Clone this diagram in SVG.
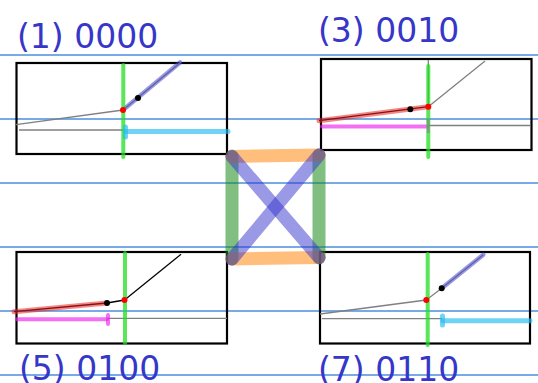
<svg xmlns="http://www.w3.org/2000/svg" width="538" height="383" viewBox="0 0 538 383">
<style>
.grid{stroke:#4a8fe0;stroke-width:1.3}
.box{fill:none;stroke:#000;stroke-width:2.2}
.thin{stroke:#808080;stroke-width:1.3;fill:none}
.blk{stroke:#000;stroke-width:1.3;fill:none}
.vg{stroke:#22dd22;stroke-opacity:0.75;stroke-width:4;stroke-linecap:round}
.blu{stroke:#4444cc;stroke-opacity:0.55;stroke-width:4.5;stroke-linecap:round}
.red{stroke:#ee2222;stroke-opacity:0.55;stroke-width:5;stroke-linecap:round}
.cy{stroke:#22bbf0;stroke-opacity:0.65;stroke-width:5;stroke-linecap:round}
.mg{stroke:#ee22ee;stroke-opacity:0.65;stroke-width:4;stroke-linecap:round}
.rd{fill:#ff0000}
.bd{fill:#000}
.lbl{font-family:"DejaVu Sans",sans-serif;font-size:33px;fill:#3636c8}
.eo{stroke:#ff8811;stroke-opacity:0.55;stroke-width:13;stroke-linecap:round}
.eg{stroke:#1a881a;stroke-opacity:0.55;stroke-width:13;stroke-linecap:round}
.eb{stroke:#3333cc;stroke-opacity:0.5;stroke-width:13;stroke-linecap:round}
</style>
<g id="grid">
<line class="grid" x1="0" y1="55" x2="538" y2="55"/>
<line class="grid" x1="0" y1="119" x2="538" y2="119"/>
<line class="grid" x1="0" y1="183" x2="538" y2="183"/>
<line class="grid" x1="0" y1="247" x2="538" y2="247"/>
<line class="grid" x1="0" y1="311" x2="538" y2="311"/>
<line class="grid" x1="0" y1="375" x2="538" y2="375"/>
</g>
<g id="node1">
<rect class="box" x="16.5" y="63" width="210.5" height="91"/>
<line class="thin" x1="16" y1="124.7" x2="123" y2="110"/>
<line class="thin" x1="123" y1="110" x2="181" y2="62"/>
<line class="blu" x1="123" y1="110" x2="180" y2="62.5"/>
<line class="thin" x1="19" y1="130" x2="124" y2="130"/>
<line class="vg" x1="123.3" y1="65" x2="123.3" y2="157"/>
<line class="cy" x1="126" y1="131.5" x2="228" y2="131.5"/>
<line class="cy" x1="125.5" y1="127" x2="125.5" y2="137"/>
<circle class="bd" cx="138" cy="98" r="3"/>
<circle class="rd" cx="123" cy="110" r="3"/>
<text class="lbl" x="17" y="48">(1) 0000</text>
</g>
<g id="node3">
<rect class="box" x="321" y="59" width="210.5" height="91"/>
<line class="thin" x1="428.3" y1="60" x2="428.3" y2="107"/>
<line class="thin" x1="428.3" y1="106.7" x2="485" y2="61"/>
<line class="blk" x1="319" y1="120.7" x2="428.3" y2="106.7"/>
<line class="red" x1="319" y1="120.7" x2="428.3" y2="106.7"/>
<line class="thin" x1="428" y1="125.5" x2="530" y2="125.5"/>
<line class="mg" x1="322" y1="126.5" x2="427" y2="126.5"/>
<line class="vg" x1="428.3" y1="66" x2="428.3" y2="157"/>
<line stroke="#888" stroke-width="3" stroke-opacity="0.7" x1="428.3" y1="119" x2="428.3" y2="133"/>
<circle class="bd" cx="410.3" cy="109.3" r="3"/>
<circle class="rd" cx="428.3" cy="106.7" r="3"/>
<text class="lbl" x="318" y="42">(3) 0010</text>
</g>
<g id="node5">
<rect class="box" x="16.5" y="252" width="210.5" height="91.5"/>
<line class="blk" x1="124.5" y1="300" x2="181" y2="254.3"/>
<line class="blk" x1="107" y1="303" x2="124.5" y2="300"/>
<line class="blk" x1="14" y1="311.7" x2="107" y2="303"/>
<line class="red" x1="14" y1="311.7" x2="107" y2="303"/>
<line class="thin" x1="108" y1="318.3" x2="227" y2="318.3"/>
<line class="mg" x1="17" y1="319.3" x2="107" y2="319.3"/>
<line class="mg" x1="108" y1="315" x2="108" y2="324"/>
<line class="vg" x1="125" y1="253" x2="125" y2="343"/>
<circle class="bd" cx="107" cy="303" r="3"/>
<circle class="rd" cx="124.5" cy="300" r="3"/>
<text class="lbl" x="19" y="380">(5) 0100</text>
</g>
<g id="node7">
<rect class="box" x="320" y="252" width="210" height="91.5"/>
<line class="thin" x1="320" y1="314" x2="426.3" y2="300"/>
<line class="thin" x1="426.3" y1="300" x2="441.7" y2="288.3"/>
<line class="thin" x1="441.7" y1="288.3" x2="483.3" y2="254.7"/>
<line class="blu" x1="441.7" y1="288.3" x2="483.3" y2="254.7"/>
<line class="thin" x1="322" y1="318.7" x2="442" y2="318.7"/>
<line class="cy" x1="443" y1="320.7" x2="530" y2="320.7"/>
<line class="cy" x1="442.5" y1="316" x2="442.5" y2="325"/>
<line class="vg" x1="427.7" y1="254" x2="427.7" y2="345"/>
<circle class="bd" cx="441.7" cy="288.3" r="3"/>
<circle class="rd" cx="426.3" cy="300" r="3"/>
<text class="lbl" x="318" y="381">(7) 0110</text>
</g>
<g id="connectors">
<line class="eg" x1="232" y1="156" x2="232" y2="259"/>
<line class="eg" x1="319" y1="155" x2="319" y2="258"/>
<line class="eo" x1="232" y1="156.5" x2="319" y2="155"/>
<line class="eo" x1="232" y1="259" x2="319" y2="257.5"/>
<line class="eb" x1="232" y1="156.5" x2="319" y2="257.5"/>
<line class="eb" x1="319" y1="155" x2="232" y2="259"/>
</g>
</svg>
